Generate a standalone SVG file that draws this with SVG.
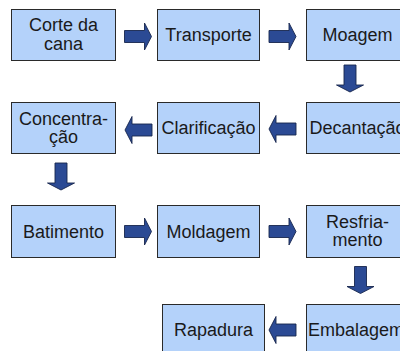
<svg xmlns="http://www.w3.org/2000/svg" xmlns:xlink="http://www.w3.org/1999/xlink" width="400" height="351" viewBox="0 0 400 351">
<style>
.box{fill:#b4d2fa;stroke:#2a2a2a;stroke-width:1}
.t{font-family:"Liberation Sans",Arial,sans-serif;font-size:18px;fill:#1a1a1a;text-anchor:middle}
.arr{fill:#2b4a94;stroke:#17264d;stroke-width:0.9}
</style>
<defs>
<path id="ar" d="M-13.5,-6 L6.5,-6 L6.5,-13.5 L13.5,0 L6.5,13.5 L6.5,6 L-13.5,6 Z"/>
</defs>
<rect width="400" height="351" fill="#ffffff"/>
<g id="n1"><rect class="box" x="11.5" y="9.5" width="104" height="51"/><text class="t" x="63.5" y="31">Corte da</text><text class="t" x="63.5" y="50">cana</text></g>
<g id="n2"><rect class="box" x="157.5" y="9.5" width="102" height="51"/><text class="t" x="208.5" y="41">Transporte</text></g>
<g id="n3"><rect class="box" x="306.5" y="9.5" width="102" height="51"/><text class="t" x="357.5" y="41">Moagem</text></g>
<g id="n4"><rect class="box" x="306.5" y="102.5" width="102" height="51"/><text class="t" x="357.5" y="134">Decantação</text></g>
<g id="n5"><rect class="box" x="157.5" y="102.5" width="102" height="51"/><text class="t" x="208.5" y="134">Clarificação</text></g>
<g id="n6"><rect class="box" x="11.5" y="102.5" width="104" height="51"/><text class="t" x="63.5" y="124.5">Concentra-</text><text class="t" x="63.5" y="143">ção</text></g>
<g id="n7"><rect class="box" x="11.5" y="205.5" width="104" height="52"/><text class="t" x="63.5" y="237.5">Batimento</text></g>
<g id="n8"><rect class="box" x="157.5" y="205.5" width="102" height="52"/><text class="t" x="208.5" y="237.5">Moldagem</text></g>
<g id="n9"><rect class="box" x="306.5" y="205.5" width="102" height="52"/><text class="t" x="357.5" y="227.5">Resfria-</text><text class="t" x="357.5" y="246">mento</text></g>
<g id="n10"><rect class="box" x="306.5" y="304.5" width="102" height="52"/><text class="t" x="356" y="336">Embalagem</text></g>
<g id="n11"><rect class="box" x="162.5" y="304.5" width="102" height="52"/><text class="t" x="213.5" y="336">Rapadura</text></g>
<g id="connectors" class="arr">
<use xlink:href="#ar" transform="translate(138,36.5)"/>
<use xlink:href="#ar" transform="translate(282.5,36.5)"/>
<use xlink:href="#ar" transform="translate(350,78.5) rotate(90)"/>
<use xlink:href="#ar" transform="translate(282.5,129) rotate(180)"/>
<use xlink:href="#ar" transform="translate(138.5,130) rotate(180)"/>
<use xlink:href="#ar" transform="translate(61,176.5) rotate(90)"/>
<use xlink:href="#ar" transform="translate(138,231.5)"/>
<use xlink:href="#ar" transform="translate(282.5,231.5)"/>
<use xlink:href="#ar" transform="translate(360.5,280) rotate(90)"/>
<use xlink:href="#ar" transform="translate(282.5,330) rotate(180)"/>
</g>
</svg>
